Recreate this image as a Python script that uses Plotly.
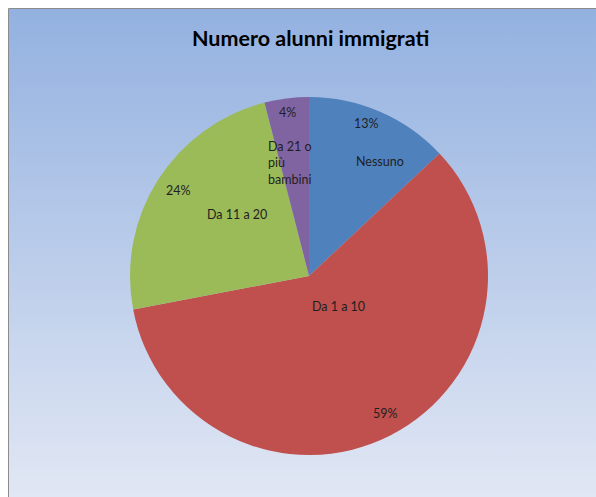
import numpy as np
import plotly.graph_objects as go

# Data
categories = ["Nessuno", "Da 1 a 10", "Da 11 a 20", "Da 21 o<br>più<br>bambini"]
values = [13, 59, 24, 4]
colors = ["#4f81bd", "#c0504d", "#9bbb59", "#8064a2"]

# Canvas geometry (pixels)
W, H = 596, 497
LEFT, TOP = 9, 9            # chart area offset from the page edge
CX, CY, R = 309, 276, 179   # pie centre and radius

# Label placement: (radius fraction, position within slice angle 0..1)
pct_place = [(0.91, 0.44), (0.88, 0.49), (0.87, 0.51), (0.92, 0.48)]
name_place = [(0.75, 0.68), (0.24, 0.42), (0.53, 0.59), (0.64, 0.34)]

FONT = "Lato, 'Open Sans', sans-serif"
LABEL_FONT = dict(family=FONT, size=12.5, color="#1f1f1f")

fig = go.Figure()

# Chart-area background with vertical gradient
fig.add_trace(go.Scatter(
    x=[0, 1, 1, 0, 0], y=[0, 0, 1, 1, 0],
    mode="lines", line=dict(width=0), fill="toself",
    fillgradient=dict(type="vertical",
                      colorscale=[[0, "#e1e7f4"], [1, "#93b1e0"]]),
    hoverinfo="skip", showlegend=False,
))

fig.add_trace(go.Pie(
    labels=categories, values=values, sort=False,
    direction="clockwise", rotation=0,
    marker=dict(colors=colors, line=dict(width=0)),
    textinfo="none", hoverinfo="label+percent", showlegend=False,
    domain=dict(x=[(CX - R) / W, (CX + R) / W],
                y=[1 - (CY + R) / H, 1 - (CY - R) / H]),
))

# Slice labels placed along the slice angles derived from the values
total = float(sum(values))
cum = np.concatenate([[0], np.cumsum(values)]) / total * 360.0


def to_paper(rfrac, ang_deg):
    a = np.deg2rad(ang_deg)
    px = CX + rfrac * R * np.sin(a)
    py = CY - rfrac * R * np.cos(a)
    return px / W, 1 - py / H


annotations = []
for i, v in enumerate(values):
    a0, a1 = cum[i], cum[i + 1]
    rf, af = pct_place[i]
    x, y = to_paper(rf, a0 + af * (a1 - a0))
    annotations.append(dict(x=x, y=y, xref="paper", yref="paper",
                            xanchor="center", yanchor="middle",
                            text=f"{round(v / total * 100)}%", showarrow=False,
                            font=LABEL_FONT))
    rf, af = name_place[i]
    x, y = to_paper(rf, a0 + af * (a1 - a0))
    annotations.append(dict(x=x, y=y, xref="paper", yref="paper",
                            xanchor="center", yanchor="middle",
                            text=categories[i], showarrow=False, align="left",
                            font=LABEL_FONT))

# Title
annotations.append(dict(x=310 / W, y=1 - 38 / H, xref="paper", yref="paper",
                        xanchor="center", yanchor="middle",
                        text="<b>Numero alunni immigrati</b>", showarrow=False,
                        font=dict(family=FONT, size=21.5, color="#000000")))

fig.update_layout(
    width=W, height=H,
    margin=dict(l=0, r=0, t=0, b=0),
    paper_bgcolor="white", plot_bgcolor="rgba(0,0,0,0)",
    xaxis=dict(domain=[LEFT / W, 1], range=[0, 1], visible=False, fixedrange=True),
    yaxis=dict(domain=[0, 1 - TOP / H], range=[0, 1], visible=False, fixedrange=True),
    annotations=annotations,
    shapes=[
        dict(type="line", xref="paper", yref="paper",
             x0=(LEFT - 0.5) / W, x1=(LEFT - 0.5) / W, y0=0, y1=1 - (TOP - 0.5) / H,
             line=dict(color="#8c8c8c", width=1)),
        dict(type="line", xref="paper", yref="paper",
             x0=(LEFT - 0.5) / W, x1=1, y0=1 - (TOP - 0.5) / H, y1=1 - (TOP - 0.5) / H,
             line=dict(color="#8c8c8c", width=1)),
    ],
)

fig.write_html("out.html")
